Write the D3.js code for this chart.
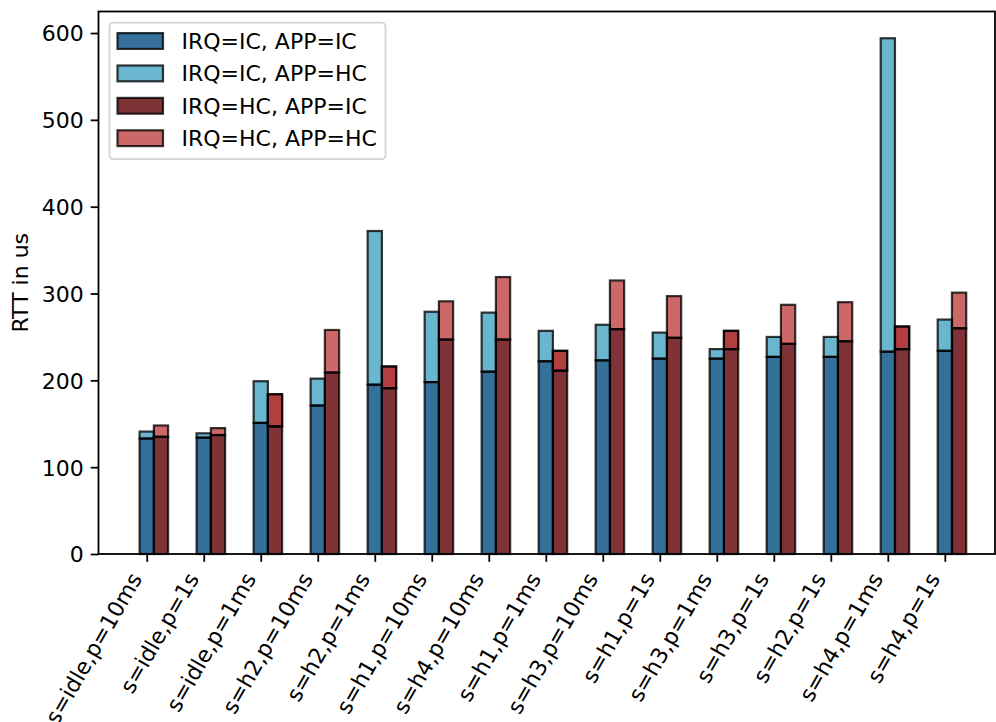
<!DOCTYPE html>
<html>
<head>
<meta charset="utf-8">
<script src="https://cdn.jsdelivr.net/npm/d3@7"></script>
<style>
  html, body { margin: 0; padding: 0; background: #fff; }
  svg { display: block; font-family: "DejaVu Sans", sans-serif; }
</style>
</head>
<body>
<svg id="chart" width="996" height="722"></svg>
<script>
// Scenario labels (load s, period p)
const categories = [
  "s=idle,p=10ms", "s=idle,p=1s", "s=idle,p=1ms", "s=h2,p=10ms", "s=h2,p=1ms",
  "s=h1,p=10ms", "s=h4,p=10ms", "s=h1,p=1ms", "s=h3,p=10ms", "s=h1,p=1s",
  "s=h3,p=1ms", "s=h3,p=1s", "s=h2,p=1s", "s=h4,p=1ms", "s=h4,p=1s"
];

// Round-trip times in microseconds
const irqIcAppIc = [133, 134, 151, 171, 195, 198, 210, 222, 223, 225, 225, 227, 227, 233, 234];
const irqIcAppHc = [141, 139, 199, 202, 372, 279, 278, 257, 264, 255, 236, 250, 250, 594, 270];
const irqHcAppIc = [135, 137, 147, 209, 191, 247, 247, 211, 259, 249, 236, 242, 245, 236, 260];
const irqHcAppHc = [148, 145, 184, 258, 216, 291, 319, 234, 315, 297, 257, 287, 290, 262, 301];

const yTicks = [0, 100, 200, 300, 400, 500, 600];

const seriesNames = ["IRQ=IC, APP=IC", "IRQ=IC, APP=HC", "IRQ=HC, APP=IC", "IRQ=HC, APP=HC"];
const colors = {
  blueDark: "#35709a",
  blueLight: "#6bb6cf",
  redDark: "#7f3337",
  redLight: "#cd6868",
  redStrong: "#b23e40"
};
const legendColors = [colors.blueDark, colors.blueLight, colors.redDark, colors.redLight];

const svg = d3.select("#chart");
const plot = { left: 98.5, right: 995, top: 11.5, bottom: 554 };
const fontSize = 22;
const edge = "rgba(0,0,0,0.78)";
const edgeW = 2.2;

const x = d3.scaleLinear().domain([-0.846, 14.88]).range([plot.left, plot.right]);
const y = d3.scaleLinear().domain([0, 624.8]).range([plot.bottom, plot.top]);
const barW = 0.25;

// Build stacked segments: lower = APP=IC, upper = APP=HC excess
const rows = categories.map((c, i) => ({
  cat: c, i,
  ic: [irqIcAppIc[i], irqIcAppHc[i]],
  hc: [irqHcAppIc[i], irqHcAppHc[i]]
}));

const segments = [];
rows.forEach(r => {
  const strong = r.cat.endsWith("p=1ms");
  // IRQ=IC bar (centred on the tick)
  segments.push({ x0: r.i - barW / 2, lo: 0, hi: r.ic[0], fill: colors.blueDark, dbl: false });
  segments.push({ x0: r.i - barW / 2, lo: r.ic[0], hi: r.ic[1], fill: colors.blueLight, dbl: false });
  // IRQ=HC bar (right of it)
  segments.push({ x0: r.i + barW / 2, lo: 0, hi: r.hc[0], fill: colors.redDark, dbl: false });
  segments.push({ x0: r.i + barW / 2, lo: r.hc[0], hi: r.hc[1],
                  fill: strong ? colors.redStrong : colors.redLight, dbl: strong });
});

const rectAttrs = sel => sel
  .attr("x", d => x(d.x0))
  .attr("width", d => x(d.x0 + barW) - x(d.x0))
  .attr("y", d => y(d.hi))
  .attr("height", d => y(d.lo) - y(d.hi));

const bars = svg.append("g");
bars.selectAll("rect.fill").data(segments).join("rect")
  .attr("class", "fill").call(rectAttrs).attr("fill", d => d.fill);
bars.selectAll("rect.edge").data(segments).join("rect")
  .attr("class", "edge").call(rectAttrs)
  .attr("fill", "none").attr("stroke", edge).attr("stroke-width", edgeW);
bars.selectAll("rect.edge2").data(segments.filter(d => d.dbl)).join("rect")
  .attr("class", "edge2").call(rectAttrs)
  .attr("fill", "none").attr("stroke", edge).attr("stroke-width", edgeW);

// Axes frame
svg.append("rect")
  .attr("x", plot.left).attr("y", plot.top)
  .attr("width", plot.right - plot.left).attr("height", plot.bottom - plot.top)
  .attr("fill", "none").attr("stroke", "#000").attr("stroke-width", 1.8);

// Y axis
const yAxis = d3.axisLeft(y).tickValues(yTicks).tickSize(7.8).tickPadding(7).tickFormat(d3.format("d"));
const gy = svg.append("g").attr("transform", `translate(${plot.left},0)`).call(yAxis);
gy.select(".domain").remove();
gy.selectAll(".tick line").attr("stroke", "#000").attr("stroke-width", 1.8);
gy.selectAll(".tick text").attr("font-size", fontSize).attr("fill", "#000")
  .attr("font-family", "DejaVu Sans").attr("dy", "0.36em");

// X axis
const xAxis = d3.axisBottom(x).tickValues(d3.range(categories.length)).tickSize(7.8)
  .tickFormat(i => categories[i]);
const gx = svg.append("g").attr("transform", `translate(0,${plot.bottom})`).call(xAxis);
gx.select(".domain").remove();
gx.selectAll(".tick line").attr("stroke", "#000").attr("stroke-width", 1.8);
gx.selectAll(".tick text")
  .attr("font-size", fontSize).attr("fill", "#000").attr("font-family", "DejaVu Sans")
  .attr("text-anchor", "end")
  .attr("x", -4.5).attr("y", 24.5).attr("dy", 0)
  .attr("transform", "rotate(-60,-4.5,24.5)");

// Y label
svg.append("text")
  .attr("transform", `translate(28,${(plot.top + plot.bottom) / 2}) rotate(-90)`)
  .attr("text-anchor", "middle").attr("font-size", fontSize).attr("fill", "#000")
  .text("RTT in us");

// Legend
const lg = svg.append("g");
lg.append("rect")
  .attr("x", 109.5).attr("y", 22.7).attr("width", 276).attr("height", 136.5)
  .attr("rx", 4).attr("fill", "rgba(255,255,255,0.8)")
  .attr("stroke", "#d3d3d3").attr("stroke-width", 1.8);
const rowY = i => 41 + i * 32.4;
const items = lg.selectAll("g.item").data(seriesNames).join("g").attr("class", "item");
items.append("rect")
  .attr("x", 117.5).attr("width", 45.5)
  .attr("y", (d, i) => rowY(i) - 7.9).attr("height", 15.8)
  .attr("fill", (d, i) => legendColors[i])
  .attr("stroke", edge).attr("stroke-width", edgeW);
items.append("text")
  .attr("x", 181.5).attr("y", (d, i) => rowY(i) + 7.9)
  .attr("font-size", fontSize).attr("fill", "#000")
  .text(d => d);
</script>
</body>
</html>
